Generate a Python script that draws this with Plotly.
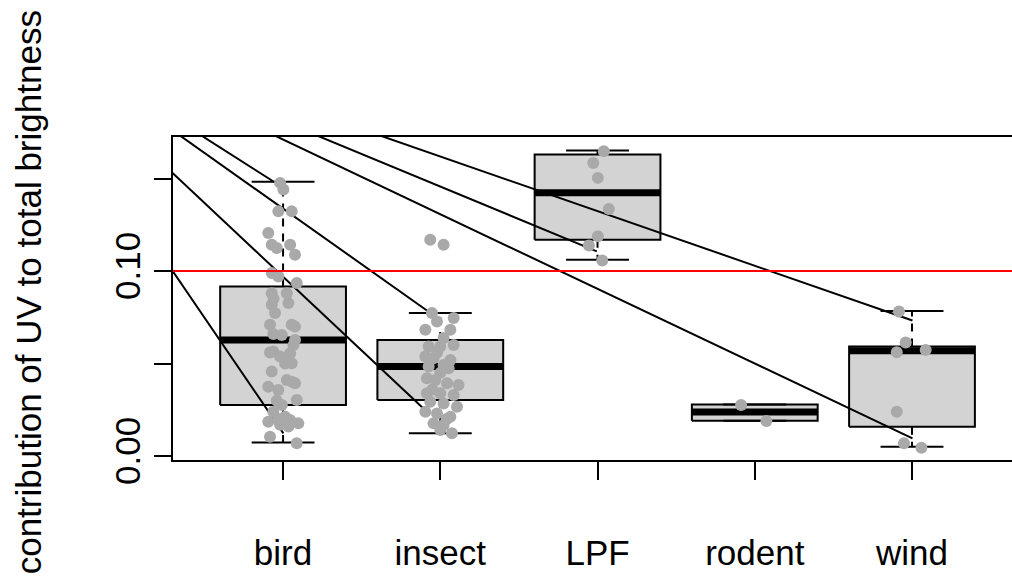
import plotly.graph_objects as go

# ---------------- data ----------------
categories = ["bird", "insect", "LPF", "rodent", "wind"]
box_low = [0.0074, 0.0123, 0.1062, 0.0191, 0.0050]
box_q1 = [0.0276, 0.0303, 0.1170, 0.0191, 0.0159]
box_median = [0.0628, 0.0484, 0.1423, 0.0239, 0.0569]
box_q3 = [0.0917, 0.0628, 0.1630, 0.0279, 0.0592]
box_high = [0.1483, 0.0773, 0.1652, 0.0279, 0.0785]

bird_vals = [0.1477, 0.1441, 0.1323, 0.1323, 0.1206, 0.1143, 0.1125, 0.1143, 0.1089,
             0.0990, 0.0971, 0.0936, 0.0881, 0.0881, 0.0818, 0.0827, 0.0773, 0.0710,
             0.0710, 0.0655, 0.0628, 0.0565, 0.0556, 0.0538, 0.0502, 0.0457, 0.0412,
             0.0394, 0.0375, 0.0358, 0.0303, 0.0276, 0.0240, 0.0186, 0.0213, 0.0195,
             0.0177, 0.0105, 0.0069, 0.0660, 0.0600, 0.0300, 0.0160, 0.0170, 0.0500,
             0.0560, 0.0400, 0.0200, 0.0700, 0.0850]
bird_jitter = [-0.019, 0.002, -0.030, 0.055, -0.094, -0.072, -0.040, 0.045, 0.076,
               -0.072, -0.030, 0.087, -0.072, 0.024, -0.072, 0.034, -0.051, -0.083,
               0.055, -0.008, 0.076, -0.062, 0.045, -0.019, 0.055, -0.072, 0.024,
               0.076, -0.094, -0.030, 0.087, -0.008, -0.062, -0.094, 0.013, 0.045,
               0.097, -0.083, 0.087, -0.062, 0.066, -0.040, 0.034, -0.019, 0.013,
               -0.083, 0.060, -0.030, 0.076, -0.060]

insect_vals = [0.1170, 0.1143, 0.0773, 0.0746, 0.0728, 0.0683, 0.0683, 0.0638, 0.0592,
               0.0592, 0.0601, 0.0538, 0.0529, 0.0520, 0.0484, 0.0493, 0.0475, 0.0421,
               0.0412, 0.0394, 0.0385, 0.0340, 0.0340, 0.0330, 0.0294, 0.0285, 0.0267,
               0.0240, 0.0231, 0.0213, 0.0177, 0.0168, 0.0141, 0.0123, 0.0560, 0.0450,
               0.0360, 0.0200]
insect_jitter = [-0.064, 0.021, -0.053, 0.085, -0.021, -0.095, 0.064, 0.021, -0.074,
                 0.000, 0.085, -0.095, -0.043, 0.064, -0.074, 0.021, 0.053, -0.085,
                 -0.032, 0.043, 0.116, -0.085, 0.000, 0.085, -0.064, 0.021, 0.106,
                 -0.095, -0.021, 0.064, -0.043, 0.021, 0.000, 0.074, -0.020, 0.000,
                 -0.050, 0.040]

lpf_vals = [0.1648, 0.1585, 0.1504, 0.1336, 0.1188, 0.1139, 0.1058]
lpf_jitter = [0.040, -0.027, 0.002, 0.072, 0.002, -0.055, 0.030]

rodent_vals = [0.0276, 0.0190]
rodent_jitter = [-0.087, 0.074]

wind_vals = [0.0782, 0.0614, 0.0562, 0.0574, 0.0240, 0.0069, 0.0045]
wind_jitter = [-0.083, -0.040, -0.097, 0.087, -0.097, -0.051, 0.060]

threshold = 0.10

line_start_x = -0.88
line_start_y = 0.247
line_end_x = [1.002, 1.903, 1.935, 0.949, 5.003, 2.9955, 5.003]
line_end_y = [0.0123, 0.0249, 0.0775, 0.1479, 0.0096, 0.1107, 0.0733]

y_tickvals = [0.00, 0.05, 0.10, 0.15]
y_ticktext = ["0.00", "", "0.10", ""]
y_title = "contribution of UV to total brightness"

# ---------------- styling ----------------
FONT = "Liberation Sans, Arial, Helvetica, sans-serif"
FS = 35
BOX_HALF = 0.4
CAP_HALF = 0.2
positions = list(range(1, len(categories) + 1))

fig = go.Figure()

# box bodies
bx, by = [], []
for p, lo, hi in zip(positions, box_q1, box_q3):
    bx += [p - BOX_HALF, p + BOX_HALF, p + BOX_HALF, p - BOX_HALF, p - BOX_HALF, None]
    by += [lo, lo, hi, hi, lo, None]
fig.add_trace(go.Scatter(x=bx, y=by, mode="lines", fill="toself",
                         fillcolor="#d3d3d3", line=dict(color="black", width=2),
                         hoverinfo="skip", showlegend=False))

# whiskers (dashed)
wx, wy = [], []
for p, lo, q1, q3, hi in zip(positions, box_low, box_q1, box_q3, box_high):
    wx += [p, p, None, p, p, None]
    wy += [q3, hi, None, q1, lo, None]
fig.add_trace(go.Scatter(x=wx, y=wy, mode="lines",
                         line=dict(color="black", width=2, dash="8px,7px"),
                         hoverinfo="skip", showlegend=False))

# whisker caps
cx, cy = [], []
for p, lo, hi in zip(positions, box_low, box_high):
    cx += [p - CAP_HALF, p + CAP_HALF, None, p - CAP_HALF, p + CAP_HALF, None]
    cy += [hi, hi, None, lo, lo, None]
fig.add_trace(go.Scatter(x=cx, y=cy, mode="lines",
                         line=dict(color="black", width=2),
                         hoverinfo="skip", showlegend=False))

# medians
mx, my = [], []
for p, m in zip(positions, box_median):
    mx += [p - BOX_HALF, p + BOX_HALF, None]
    my += [m, m, None]
fig.add_trace(go.Scatter(x=mx, y=my, mode="lines",
                         line=dict(color="black", width=7),
                         hoverinfo="skip", showlegend=False))

# diagonal lines
lx, ly = [], []
for ex, ey in zip(line_end_x, line_end_y):
    lx += [line_start_x, ex, None]
    ly += [line_start_y, ey, None]
fig.add_trace(go.Scatter(x=lx, y=ly, mode="lines",
                         line=dict(color="black", width=2),
                         hoverinfo="skip", showlegend=False))

# jittered points
groups = [(bird_vals, bird_jitter), (insect_vals, insect_jitter),
          (lpf_vals, lpf_jitter), (rodent_vals, rodent_jitter),
          (wind_vals, wind_jitter)]
px_, py_ = [], []
for p, (vals, jit) in zip(positions, groups):
    px_ += [p + j for j in jit]
    py_ += vals
fig.add_trace(go.Scatter(x=px_, y=py_, mode="markers",
                         marker=dict(color="#a9a9a9", size=12, line=dict(width=0)),
                         hoverinfo="skip", showlegend=False))

# threshold line
fig.add_shape(type="line", xref="paper", x0=0, x1=1, yref="y",
              y0=threshold, y1=threshold, line=dict(color="red", width=2),
              layer="above")

# y-axis title as a rotated annotation
fig.add_annotation(text=y_title, xref="paper", yref="paper",
                   x=-0.1725, y=0.52, xanchor="center", yanchor="middle",
                   textangle=-90, showarrow=False,
                   font=dict(family=FONT, size=FS, color="black"))

fig.update_layout(
    width=1012, height=581,
    margin=dict(l=173, r=0, t=137, b=121),
    paper_bgcolor="white", plot_bgcolor="white",
    font=dict(family=FONT, size=FS, color="black"),
    showlegend=False,
)
fig.update_xaxes(
    range=[0.3, 5.636], tickmode="array", tickvals=positions, ticktext=categories,
    showgrid=False, zeroline=False, showline=True, mirror=True,
    linecolor="black", linewidth=2,
    ticks="outside", ticklen=18, tickwidth=2, tickcolor="black",
    tickfont=dict(family=FONT, size=FS), ticklabelstandoff=43,
)
fig.update_yaxes(
    range=[-0.0021, 0.1725], tickmode="array", tickvals=y_tickvals, ticktext=y_ticktext,
    showgrid=False, zeroline=False, showline=True, mirror=False,
    linecolor="black", linewidth=2,
    ticks="outside", ticklen=17, tickwidth=2, tickcolor="black",
    tickangle=-90, tickfont=dict(family=FONT, size=FS), ticklabelstandoff=0,
)

fig.write_html("out.html")
